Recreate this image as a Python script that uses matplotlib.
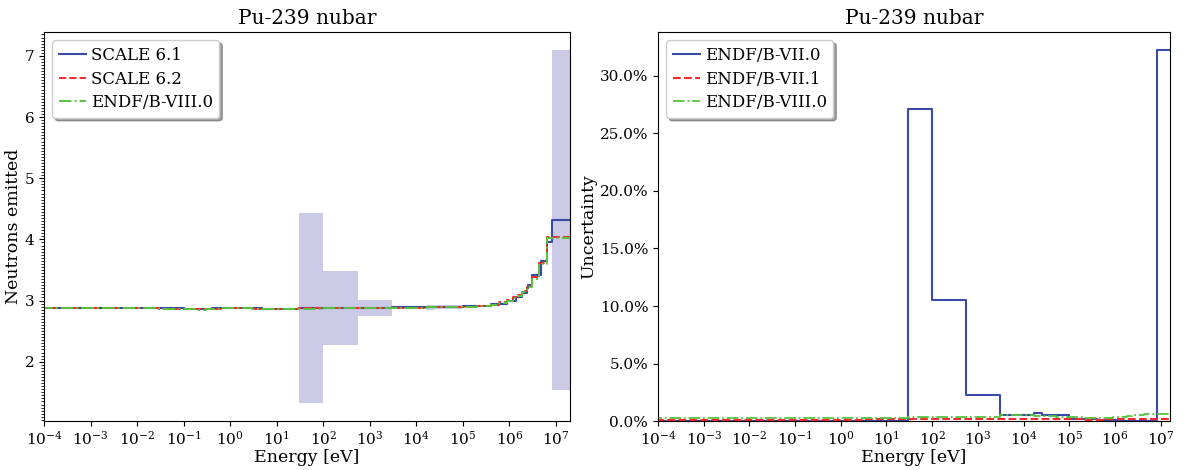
import numpy as np
import matplotlib
matplotlib.use("Agg")
import matplotlib.pyplot as plt
from matplotlib.ticker import PercentFormatter, MultipleLocator

plt.rcParams['font.family'] = 'DejaVu Serif'
plt.rcParams['font.size'] = 12.5
plt.rcParams['axes.titlesize'] = 14.5
plt.rcParams['xtick.labelsize'] = 11
plt.rcParams['ytick.labelsize'] = 11
plt.rcParams['xtick.major.pad'] = 2.5
plt.rcParams['axes.labelpad'] = 1.5
plt.rcParams['legend.fontsize'] = 12
plt.rcParams['legend.handlelength'] = 1.6
plt.rcParams['legend.handletextpad'] = 0.3
plt.rcParams['legend.labelspacing'] = 0.4

# SCALE 44-group boundaries (eV), ascending
e44 = [1e-5, 3e-3, 7.5e-3, 1e-2, 2.53e-2, 3e-2, 4e-2, 5e-2, 7e-2, 1e-1, 1.5e-1,
       2e-1, 2.25e-1, 2.5e-1, 2.75e-1, 3.25e-1, 3.5e-1, 3.75e-1, 4e-1, 6.25e-1,
       1.0, 1.77, 3.0, 4.75, 6.0, 8.1, 10.0, 30.0, 100.0, 550.0, 3000.0, 1.7e4,
       2.5e4, 1e5, 4e5, 9e5, 1.4e6, 1.85e6, 2.354e6, 2.479e6, 3e6, 4.8e6,
       6.434e6, 8.187e6, 2e7]

# coarser structure used for the newer libraries (eV), ascending
e_new = [1e-5, 3e-3, 1e-2, 3e-2, 1e-1, 2e-1, 3e-1, 4e-1, 6.25e-1, 1.0, 3.0, 10.0,
         30.0, 100.0, 550.0, 3000.0, 1.7e4, 5e4, 1e5, 2e5, 4e5, 6e5, 9e5, 1.2e6,
         1.5e6, 1.85e6, 2.354e6, 3e6, 4.304e6, 6.434e6, 2e7]

# nubar values
nu_scale61 = [2.876, 2.876, 2.876, 2.876, 2.876, 2.876, 2.875, 2.874, 2.872, 2.868,
              2.864, 2.860, 2.858, 2.856, 2.856, 2.858, 2.862, 2.866, 2.872, 2.876,
              2.876, 2.874, 2.872, 2.870, 2.868, 2.868, 2.870, 2.878, 2.882, 2.884,
              2.888, 2.890, 2.892, 2.905, 2.94, 3.00, 3.06, 3.12, 3.20, 3.25, 3.42,
              3.65, 3.96, 4.32]
nu_scale62 = [2.876, 2.876, 2.875, 2.870, 2.862, 2.855, 2.858, 2.868, 2.875, 2.873,
              2.869, 2.866, 2.872, 2.878, 2.882, 2.886, 2.890, 2.893, 2.900, 2.915,
              2.935, 2.97, 3.01, 3.05, 3.09, 3.15, 3.24, 3.38, 3.62, 4.04]
nu_endf80 = [2.872, 2.872, 2.871, 2.866, 2.858, 2.852, 2.855, 2.865, 2.872, 2.871,
             2.868, 2.864, 2.870, 2.876, 2.880, 2.884, 2.888, 2.891, 2.898, 2.912,
             2.930, 2.96, 3.00, 3.04, 3.08, 3.14, 3.22, 3.36, 3.60, 4.03]

# relative uncertainties (fraction)
unc_70 = [0.0] * 27 + [0.271, 0.105, 0.023, 0.005, 0.007, 0.005, 0.0018, 0.0012,
                       0.0008, 0.0005, 0.0004, 0.0004, 0.0004, 0.0004, 0.0005,
                       0.0006, 0.322]
unc_71 = [0.0012, 0.0012, 0.0012, 0.0012, 0.0013, 0.0013, 0.0013, 0.0013, 0.0013,
          0.0014, 0.0015, 0.0016, 0.0016, 0.0017, 0.0018, 0.0022, 0.0018, 0.0016,
          0.0015, 0.0014, 0.0014, 0.0015, 0.0016, 0.0017, 0.0018, 0.0018, 0.0019,
          0.0020, 0.0021, 0.0022]
unc_80 = [0.0025, 0.0025, 0.0025, 0.0026, 0.0026, 0.0027, 0.0027, 0.0028, 0.0028,
          0.0029, 0.0030, 0.0031, 0.0032, 0.0033, 0.0035, 0.0050, 0.0045, 0.0040,
          0.0035, 0.0030, 0.0028, 0.0030, 0.0032, 0.0036, 0.0040, 0.0045, 0.0050,
          0.0055, 0.0058, 0.0060]

blue = '#3a4ba6'
red = '#f5282d'
green = '#55c43e'


def stepvals(v):
    return np.append(v, v[-1])


fig = plt.figure(figsize=(11.83, 4.70), dpi=100)
ax1 = fig.add_axes([0.0372, 0.104, 0.4446, 0.828])
ax2 = fig.add_axes([0.5562, 0.104, 0.4328, 0.828])

# left: nubar with 2-sigma band
nu61 = np.array(nu_scale61)
u70 = np.array(unc_70)
ax1.fill_between(e44, stepvals(nu61 * (1 - 2 * u70)), stepvals(nu61 * (1 + 2 * u70)),
                 step='post', color='#cacae6', linewidth=0)
ax1.step(e44, stepvals(nu_scale61), where='post', color=blue, lw=1.5, label='SCALE 6.1')
ax1.step(e_new, stepvals(nu_scale62), where='post', color=red, lw=1.4, ls='--',
         label='SCALE 6.2')
ax1.step(e_new, stepvals(nu_endf80), where='post', color=green, lw=1.4, ls='-.',
         label='ENDF/B-VIII.0')
ax1.set_xscale('log')
ax1.set_xlim(1e-4, 2e7)
ax1.set_xticks([10.0 ** k for k in range(-4, 8)])
ax1.yaxis.set_minor_locator(MultipleLocator(0.05))
ax1.set_xlabel('Energy [eV]')
ax1.set_ylabel('Neutrons emitted')
ax1.set_title('Pu-239 nubar')
ax1.legend(loc='upper left', shadow=True, fancybox=True)

# right: relative uncertainty
ax2.step(e44, stepvals(unc_70), where='post', color=blue, lw=1.5, label='ENDF/B-VII.0')
ax2.step(e_new, stepvals(unc_71), where='post', color=red, lw=1.5, ls='--',
         label='ENDF/B-VII.1')
ax2.step(e_new, stepvals(unc_80), where='post', color=green, lw=1.3, ls='-.',
         label='ENDF/B-VIII.0')
ax2.set_xscale('log')
ax2.set_xlim(1e-4, 1.6e7)
ax2.set_xticks([10.0 ** k for k in range(-4, 8)])
ax2.set_ylim(bottom=0)
ax2.yaxis.set_major_formatter(PercentFormatter(xmax=1, decimals=1))
ax2.set_xlabel('Energy [eV]')
ax2.set_ylabel('Uncertainty')
ax2.set_title('Pu-239 nubar')
ax2.legend(loc='upper left', shadow=True, fancybox=True)

fig.savefig('out.png', dpi=100)
